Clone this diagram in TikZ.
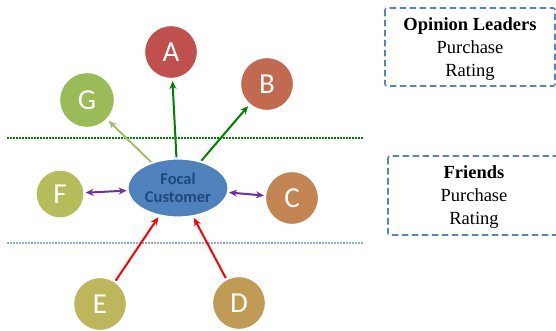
\documentclass[tikz,border=0pt]{standalone}
\usepackage{fontspec}
\setmainfont{Liberation Serif}
\newfontfamily\carlito{Carlito}
\usetikzlibrary{shapes.geometric,arrows.meta}

\definecolor{cA}{RGB}{192,80,77}
\definecolor{cB}{RGB}{193,106,79}
\definecolor{cC}{RGB}{193,132,82}
\definecolor{cD}{RGB}{192,155,85}
\definecolor{cE}{RGB}{190,182,92}
\definecolor{cF}{RGB}{180,189,90}
\definecolor{cG}{RGB}{155,187,89}
\definecolor{focalfill}{RGB}{79,129,189}
\definecolor{focaltext}{RGB}{31,73,125}
\definecolor{darkgreen}{RGB}{0,128,0}
\definecolor{lightgreen}{RGB}{160,192,110}
\definecolor{violet}{RGB}{112,48,160}
\definecolor{dotblue}{RGB}{145,175,215}
\definecolor{boxblue}{RGB}{85,132,192}

\tikzset{
  x=1pt, y=-1pt,
  person/.style={circle, minimum size=53pt, inner sep=0pt, fill=#1,
    draw=white, line width=1.2pt, text=white,
    font=\carlito\fontsize{29}{30}\selectfont},
  focalnode/.style={ellipse, minimum width=100pt, minimum height=58pt,
    inner sep=0pt, fill=focalfill, draw=white, line width=1.2pt,
    text=focaltext, align=center,
    font=\carlito\bfseries\fontsize{16.5}{18}\selectfont},
  link/.style={line width=2pt, shorten >=2pt, shorten <=1pt,
    -{Stealth[length=8pt,width=7pt]}},
  twoway/.style={line width=2pt, shorten >=1pt, shorten <=1pt,
    {Stealth[length=8pt,width=7pt]}-{Stealth[length=8pt,width=7pt]}},
  divider/.style={line width=2pt, dash pattern=on 1.6pt off 1.4pt},
  legendbox/.style={draw=boxblue, line width=1.6pt,
    dash pattern=on 6.5pt off 3.5pt, rounded corners=2pt},
  legendtext/.style={align=center, font=\fontsize{18.5}{23}\selectfont}
}

\begin{document}
\begin{tikzpicture}
\useasboundingbox (0,0) rectangle (556,331);

% tier dividers
\coordinate (g1) at (7,138);  \coordinate (g2) at (364,138);
\coordinate (b1) at (7,243);  \coordinate (b2) at (364,243);
\draw[divider, darkgreen] (g1) -- (g2);
\draw[divider, dotblue] (b1) -- (b2);

% customers
\node[focalnode] (focal) at (178,188) {Focal\\Customer};
\node[person=cA] (A) at (171,52) {A};
\node[person=cB] (B) at (267,84) {B};
\node[person=cC] (C) at (292,198) {C};
\node[person=cD] (D) at (239,303) {D};
\node[person=cE] (E) at (100,304) {E};
\node[person=cF, minimum width=47pt, minimum height=48pt] (F) at (60,194) {F};
\node[person=cG, minimum width=55pt, minimum height=50pt] (G) at (87,100) {G};

% influence links
\draw[link, darkgreen] (focal) -- (A);
\draw[link, darkgreen] (focal) -- (B);
\draw[link, lightgreen] (focal) -- (G);
\draw[twoway, violet] (F) -- (focal);
\draw[twoway, violet] (focal) -- (C);
\draw[link, red] (E) -- (focal);
\draw[link, red] (D) -- (focal);

% legend boxes
\draw[legendbox] (385,8) rectangle (555,86);
\node[legendtext] (lead) at (470,49) {\textbf{Opinion Leaders}\\Purchase\\Rating};
\draw[legendbox] (388,156) rectangle (562,235);
\node[legendtext] (friends) at (474,197) {\textbf{Friends}\\Purchase\\Rating};
\end{tikzpicture}
\end{document}
